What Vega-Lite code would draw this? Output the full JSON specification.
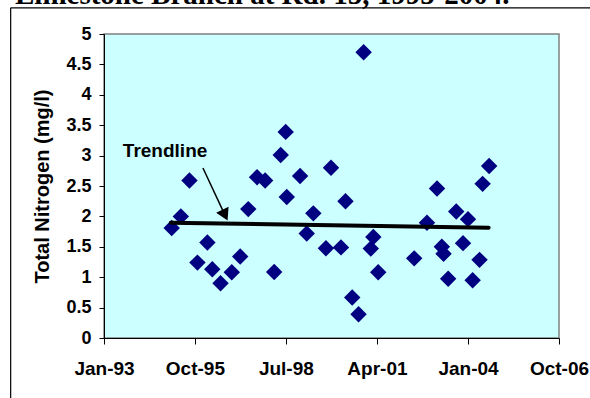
{
  "$schema": "https://vega.github.io/schema/vega-lite/v6.json",
  "width": 455,
  "height": 304,
  "autosize": {"type": "none"},
  "padding": {"left": 104, "top": 34, "right": 31, "bottom": 60},
  "background": "white",
  "title": {
    "text": "Limestone Branch at Rd. 15, 1995-2004.",
    "anchor": "start",
    "frame": "group",
    "font": "Liberation Serif",
    "fontSize": 29,
    "fontWeight": "bold",
    "color": "black",
    "baseline": "alphabetic",
    "offset": 0,
    "dy": 26,
    "dx": -89
  },
  "config": {
    "view": {"fill": "#CCFFFF", "stroke": "#808080", "strokeWidth": 1.5},
    "axis": {
      "labelFont": "Liberation Sans",
      "labelFontWeight": "bold",
      "labelColor": "black",
      "titleFont": "Liberation Sans",
      "titleFontWeight": "bold",
      "titleColor": "black",
      "domainColor": "black",
      "tickColor": "black",
      "grid": false
    }
  },
  "datasets": {
    "samples": [
      {"date": "1995-01-18", "tn": 1.81},
      {"date": "1995-04-29", "tn": 2.0},
      {"date": "1995-08-02", "tn": 2.59},
      {"date": "1995-10-29", "tn": 1.24},
      {"date": "1996-02-16", "tn": 1.57},
      {"date": "1996-04-10", "tn": 1.13},
      {"date": "1996-07-10", "tn": 0.9},
      {"date": "1996-11-11", "tn": 1.08},
      {"date": "1997-02-12", "tn": 1.34},
      {"date": "1997-05-12", "tn": 2.12},
      {"date": "1997-08-17", "tn": 2.645},
      {"date": "1997-11-14", "tn": 2.59},
      {"date": "1998-02-22", "tn": 1.085},
      {"date": "1998-05-05", "tn": 3.01},
      {"date": "1998-06-29", "tn": 3.39},
      {"date": "1998-07-11", "tn": 2.32},
      {"date": "1998-12-05", "tn": 2.665},
      {"date": "1999-02-16", "tn": 1.72},
      {"date": "1999-04-30", "tn": 2.05},
      {"date": "1999-09-16", "tn": 1.475},
      {"date": "1999-11-11", "tn": 2.8},
      {"date": "2000-02-29", "tn": 1.49},
      {"date": "2000-04-19", "tn": 2.25},
      {"date": "2000-07-02", "tn": 0.665},
      {"date": "2000-09-10", "tn": 0.39},
      {"date": "2000-11-05", "tn": 4.7},
      {"date": "2001-01-23", "tn": 1.47},
      {"date": "2001-02-20", "tn": 1.66},
      {"date": "2001-04-15", "tn": 1.08},
      {"date": "2002-05-17", "tn": 1.31},
      {"date": "2002-10-05", "tn": 1.895},
      {"date": "2003-01-24", "tn": 2.46},
      {"date": "2003-03-18", "tn": 1.5},
      {"date": "2003-04-06", "tn": 1.385},
      {"date": "2003-05-27", "tn": 0.975},
      {"date": "2003-08-24", "tn": 2.08},
      {"date": "2003-11-07", "tn": 1.56},
      {"date": "2004-01-01", "tn": 1.955},
      {"date": "2004-02-21", "tn": 0.95},
      {"date": "2004-05-07", "tn": 1.285},
      {"date": "2004-06-10", "tn": 2.535},
      {"date": "2004-08-21", "tn": 2.83}
    ],
    "trend": [
      {"date": "1995-01-08", "tn": 1.895},
      {"date": "2004-08-15", "tn": 1.815}
    ],
    "arrow": [
      {"date": "1995-12-29", "tn": 2.796, "date2": "1996-08-28", "tn2": 2.02}
    ],
    "head": [
      {"date": "1996-08-28", "tn": 2.02}
    ],
    "label": [
      {"date": "1993-07-28", "tn": 2.972, "text": "Trendline"}
    ],
    "frame": [
      {"date": "1990-03-08", "tn": 5.43, "date2": "1990-03-08", "tn2": -1.2},
      {"date": "1990-03-08", "tn": 5.43, "date2": "2007-10-04", "tn2": 5.43}
    ]
  },
  "encoding": {
    "x": {
      "field": "date",
      "type": "temporal",
      "scale": {
        "type": "utc",
        "domain": [
          {"year": 1993, "month": 1, "date": 1, "utc": true},
          {"year": 2006, "month": 10, "date": 1, "utc": true}
        ],
        "nice": false
      },
      "axis": {
        "title": null,
        "values": [
          {"year": 1993, "month": 1, "date": 1, "utc": true},
          {"year": 1995, "month": 10, "date": 1, "utc": true},
          {"year": 1998, "month": 7, "date": 1, "utc": true},
          {"year": 2001, "month": 4, "date": 1, "utc": true},
          {"year": 2004, "month": 1, "date": 1, "utc": true},
          {"year": 2006, "month": 10, "date": 1, "utc": true}
        ],
        "format": "%b-%y",
        "labelFontSize": 19,
        "tickSize": 6,
        "labelPadding": 15,
        "labelFlush": false,
        "labelOverlap": false
      }
    },
    "y": {
      "field": "tn",
      "type": "quantitative",
      "scale": {"domain": [0, 5], "nice": false, "zero": false},
      "axis": {
        "title": "Total Nitrogen (mg/l)",
        "values": [0, 0.5, 1, 1.5, 2, 2.5, 3, 3.5, 4, 4.5, 5],
        "format": "~g",
        "labelFontSize": 18,
        "tickSize": 5,
        "labelPadding": 8,
        "labelFlush": false,
        "labelOverlap": false,
        "titleFontSize": 20,
        "titleAngle": 270,
        "titleAlign": "center",
        "titleBaseline": "middle",
        "titleX": -62,
        "titleY": 152
      }
    }
  },
  "layer": [
    {
      "data": {"name": "frame"},
      "mark": {"type": "rule", "color": "black", "strokeWidth": 1.2, "clip": false},
      "encoding": {
        "x2": {"field": "date2"},
        "y2": {"field": "tn2"}
      }
    },
    {
      "data": {"name": "samples"},
      "mark": {"type": "point", "shape": "diamond", "filled": true, "color": "#000080", "opacity": 1, "size": 270}
    },
    {
      "data": {"name": "trend"},
      "mark": {"type": "line", "color": "black", "strokeWidth": 4, "strokeCap": "round"}
    },
    {
      "data": {"name": "arrow"},
      "mark": {"type": "rule", "color": "black", "strokeWidth": 1.5},
      "encoding": {
        "x2": {"field": "date2"},
        "y2": {"field": "tn2"}
      }
    },
    {
      "data": {"name": "head"},
      "mark": {"type": "point", "shape": "triangle-down", "filled": true, "color": "black", "opacity": 1, "size": 190, "angle": 334}
    },
    {
      "data": {"name": "label"},
      "mark": {"type": "text", "font": "Liberation Sans", "fontWeight": "bold", "fontSize": 19, "align": "left", "baseline": "alphabetic", "color": "black"},
      "encoding": {"text": {"field": "text"}}
    }
  ]
}
